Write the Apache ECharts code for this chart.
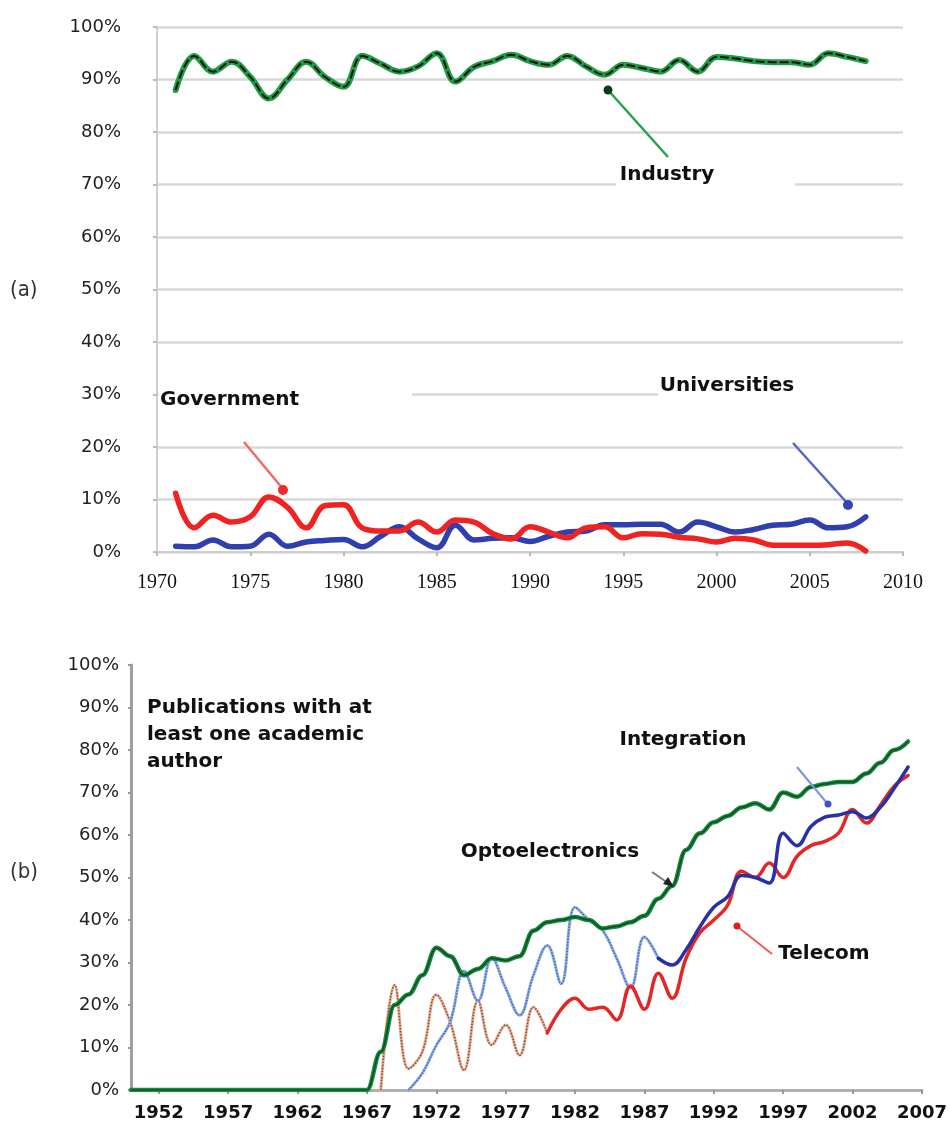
<!DOCTYPE html>
<html><head><meta charset="utf-8">
<script src="https://cdn.jsdelivr.net/npm/echarts@6/dist/echarts.min.js"></script>
<style>html,body{margin:0;padding:0;background:#fff}#c{width:950px;height:1126px}</style>
</head><body><div id="c"></div>
<script>
// ---------- Panel (a): share of publications by sector, 1971-2008 ----------
const aStartYear = 1971;
const industry = [88, 94.5, 91.5, 93.4, 90.5, 86.4, 90, 93.4, 90.5, 88.6,
  94.5, 93, 91.5, 92.5, 95, 89.6, 92.4, 93.5, 94.7, 93.5,
  92.8, 94.5, 92.5, 90.9, 92.8, 92.2, 91.5, 93.7, 91.5, 94.3,
  94, 93.5, 93.3, 93.3, 92.8, 95, 94.3, 93.5];
const government = [11.2, 4.6, 7.0, 5.7, 6.7, 10.5, 8.5, 4.6, 8.8, 9.0,
  4.6, 4.0, 4.0, 5.7, 3.8, 6.1, 5.7, 3.5, 2.5, 4.8,
  3.8, 2.7, 4.6, 4.8, 2.7, 3.5, 3.4, 2.8, 2.5, 1.9,
  2.6, 2.3, 1.3, 1.3, 1.3, 1.4, 1.7, 0.2];
const universities = [1.1, 1.0, 2.3, 1.0, 1.1, 3.4, 1.1, 1.9, 2.2, 2.4,
  1.0, 3.0, 4.8, 2.5, 0.8, 5.1, 2.3, 2.6, 2.7, 2.0,
  3.0, 3.8, 4.0, 5.2, 5.2, 5.3, 5.3, 3.8, 5.7, 4.8,
  3.8, 4.3, 5.1, 5.3, 6.1, 4.6, 4.8, 6.7];

// ---------- Panel (b): publications with at least one academic author ----------
const optoStartYear = 1950;
const optoelectronics = [0,0,0,0,0,0,0,0,0,0, 0,0,0,0,0,0,0,0,
  9, 20, 22.5, 27, 33.5, 31.5, 27, 28.5, 31, 30.5, 31.5, 37.5, 39.5,
  40, 40.7, 40, 38, 38.5, 39.5, 41, 45, 48, 56.5,
  60.4, 63, 64.5, 66.5, 67.5, 66, 70, 69, 71.3, 72,
  72.5, 72.5, 74.5, 77, 80, 82];
const integrationEarlyStart = 1970;
const integrationEarly = [0, 4, 10.5, 16, 28, 21, 31, 24, 17.6, 27, 34, 25, 43, 40, 37.5, 31, 24, 36, 31];
const integrationLateStart = 1988;
const integrationLate = [31, 29.4, 33, 38.4, 43, 45.5, 50.5, 50, 48.7, 60.4, 57.5, 62, 64.2, 64.7, 65.5, 64, 66.5, 71, 76];
const telecomEarlyStart = 1968;
const telecomEarly = [0, 24.7, 5, 9, 22.4, 16, 4.7, 21, 10.6, 15.3, 8.2, 19.5, 13.4];
const telecomLateStart = 1980;
const telecomLate = [13.4, 19, 21.6, 19, 19.5, 16.5, 24.5, 19, 27.5, 21.6,
  31, 37, 40, 43.5, 51.5, 50, 53.4, 50, 55, 57.5,
  58.5, 60.5, 66, 62.8, 67, 71.5, 74];
const xTickYearsB = [1952, 1957, 1962, 1967, 1972, 1977, 1982, 1987, 1992, 1997, 2002, 2007];

function pairs(start, arr) { return arr.map((v, i) => [start + i, v]); }

const pct = v => v + '%';
const yearFmt = v => String(v);
const sansY = 'DejaVu Sans';

function lineSeries(name, xi, data, color, width, extra) {
  return Object.assign({
    name: name, type: 'line', xAxisIndex: xi, yAxisIndex: xi,
    data: data, smooth: 0.4, symbol: 'none',
    lineStyle: { color: color, width: width, cap: 'round', join: 'round' },
    emphasis: { disabled: true }, silent: true
  }, extra || {});
}

const chart = echarts.init(document.getElementById('c'), null, { renderer: 'canvas' });

const boldFont = 'bold 20px "DejaVu Sans", Verdana, sans-serif';
const panelFont = '22px "Liberation Sans Narrow", "DejaVu Sans Condensed", sans-serif';

chart.setOption({
  animation: false,
  backgroundColor: '#ffffff',
  grid: [
    { left: 157, top: 27, width: 746, height: 525 },
    { left: 131, top: 665, width: 791, height: 425 }
  ],
  xAxis: [
    { gridIndex: 0, type: 'value', min: 1970, max: 2010, interval: 5,
      axisLine: { show: true, lineStyle: { color: '#cfcfcf', width: 2 } },
      axisTick: { show: true, length: 4, lineStyle: { color: '#bbb', width: 2 } },
      splitLine: { show: false },
      axisLabel: { formatter: yearFmt, color: '#111', fontFamily: '"Liberation Serif", "DejaVu Serif", serif', fontSize: 20, margin: 21 } },
    { gridIndex: 1, type: 'value', min: 1950, max: 2007,
      axisLine: { show: true, lineStyle: { color: '#b0b0b0', width: 3 } },
      axisTick: { show: true, length: 4, customValues: xTickYearsB, lineStyle: { color: '#999', width: 2 } },
      splitLine: { show: false },
      axisLabel: { customValues: xTickYearsB, formatter: yearFmt, color: '#111', fontFamily: 'DejaVu Sans', fontWeight: 'bold', fontSize: 18, margin: 14 } }
  ],
  yAxis: [
    { gridIndex: 0, type: 'value', min: 0, max: 100, interval: 10,
      axisLine: { show: true, lineStyle: { color: '#d0d0d0', width: 2 } },
      axisTick: { show: true, length: 4, lineStyle: { color: '#bbb', width: 2 } },
      splitLine: { show: true, lineStyle: { color: '#d8d8d8', width: 2.5 } },
      axisLabel: { formatter: pct, color: '#222', fontFamily: sansY, fontSize: 18, margin: 36 } },
    { gridIndex: 1, type: 'value', min: 0, max: 100, interval: 10,
      axisLine: { show: true, lineStyle: { color: '#9e9e9e', width: 3 } },
      axisTick: { show: true, length: 3, lineStyle: { color: '#999', width: 2 } },
      splitLine: { show: false },
      axisLabel: { formatter: pct, color: '#222', fontFamily: sansY, fontSize: 18, margin: 12 } }
  ],
  series: [
    // panel (a)
    lineSeries('Universities', 0, pairs(aStartYear, universities), '#2f3fae', 5.5),
    lineSeries('Government', 0, pairs(aStartYear, government), '#f02222', 5.5),
    lineSeries('Industry', 0, pairs(aStartYear, industry), '#1f9e46', 6),
    lineSeries('Industry core', 0, pairs(aStartYear, industry), '#111', 2, { lineStyle: { color: '#111', width: 2, type: [9, 3] } }),
    // panel (b)
    lineSeries('Telecom early', 1, pairs(telecomEarlyStart, telecomEarly), '#efb08f', 3),
    lineSeries('Telecom early dots', 1, pairs(telecomEarlyStart, telecomEarly), '#7a4d45', 1.5, { lineStyle: { color: '#7a4d45', width: 1.5, type: 'dotted' } }),
    lineSeries('Integration early', 1, pairs(integrationEarlyStart, integrationEarly), '#8db1ea', 3),
    lineSeries('Integration early dots', 1, pairs(integrationEarlyStart, integrationEarly), '#5263b0', 1.5, { lineStyle: { color: '#5263b0', width: 1.5, type: 'dotted' } }),
    lineSeries('Telecom', 1, pairs(telecomLateStart, telecomLate), '#e32626', 3.5),
    lineSeries('Integration', 1, pairs(integrationLateStart, integrationLate), '#2832a6', 3.5),
    lineSeries('Optoelectronics', 1, pairs(optoStartYear, optoelectronics), '#178a3c', 4.5, { smoothMonotone: 'x' }),
    lineSeries('Optoelectronics core', 1, pairs(optoStartYear, optoelectronics), '#0a2a12', 1.5, { smoothMonotone: 'x', lineStyle: { color: '#0a2a12', width: 1.5, opacity: 0.6 } })
  ],
  graphic: [
    // gridline gaps in panel (a)
    { type: 'rect', z: 1, silent: true, shape: { x: 159, y: 389, width: 253, height: 11 }, style: { fill: '#fff' } },
    { type: 'rect', z: 1, silent: true, shape: { x: 658, y: 389, width: 250, height: 11 }, style: { fill: '#fff' } },
    { type: 'rect', z: 1, silent: true, shape: { x: 616, y: 179, width: 179, height: 11 }, style: { fill: '#fff' } },
    // panel labels
    { type: 'text', z: 10, x: 10, y: 290, style: { text: '(a)', font: panelFont, fill: '#333', textVerticalAlign: 'middle' } },
    { type: 'text', z: 10, x: 10, y: 872, style: { text: '(b)', font: panelFont, fill: '#333', textVerticalAlign: 'middle' } },
    // Industry
    { type: 'line', z: 9, shape: { x1: 608, y1: 90, x2: 668, y2: 157 }, style: { stroke: '#2aa050', lineWidth: 2.5 } },
    { type: 'circle', z: 9, shape: { cx: 608, cy: 90, r: 4.5 }, style: { fill: '#0d3a1a' } },
    { type: 'text', z: 10, x: 667, y: 175, style: { text: 'Industry', font: boldFont, fill: '#111', textAlign: 'center', textVerticalAlign: 'middle' } },
    // Government
    { type: 'text', z: 10, x: 160, y: 400, style: { text: 'Government', font: boldFont, fill: '#111', textVerticalAlign: 'middle' } },
    { type: 'line', z: 9, shape: { x1: 244, y1: 442, x2: 283, y2: 489 }, style: { stroke: '#f06a6a', lineWidth: 2.5 } },
    { type: 'circle', z: 9, shape: { cx: 283, cy: 490, r: 5 }, style: { fill: '#ee2a2a' } },
    // Universities
    { type: 'text', z: 10, x: 727, y: 386, style: { text: 'Universities', font: boldFont, fill: '#111', textAlign: 'center', textVerticalAlign: 'middle' } },
    { type: 'line', z: 9, shape: { x1: 793, y1: 443, x2: 848, y2: 504 }, style: { stroke: '#5866c4', lineWidth: 2.5 } },
    { type: 'circle', z: 9, shape: { cx: 848, cy: 505, r: 5 }, style: { fill: '#3442b2' } },
    // Panel (b) title
    { type: 'text', z: 10, x: 147, y: 694, style: { text: 'Publications with at\nleast one academic\nauthor', font: boldFont, lineHeight: 27, fill: '#111' } },
    // Integration
    { type: 'text', z: 10, x: 683, y: 740, style: { text: 'Integration', font: boldFont, fill: '#111', textAlign: 'center', textVerticalAlign: 'middle' } },
    { type: 'line', z: 9, shape: { x1: 797, y1: 767, x2: 826, y2: 802 }, style: { stroke: '#7d95dc', lineWidth: 2 } },
    { type: 'circle', z: 9, shape: { cx: 828, cy: 804, r: 3.5 }, style: { fill: '#3d54c0' } },
    // Optoelectronics
    { type: 'text', z: 10, x: 550, y: 852, style: { text: 'Optoelectronics', font: boldFont, fill: '#111', textAlign: 'center', textVerticalAlign: 'middle' } },
    { type: 'line', z: 9, shape: { x1: 652, y1: 872, x2: 668, y2: 883 }, style: { stroke: '#777', lineWidth: 2 } },
    { type: 'polygon', z: 9, shape: { points: [[674, 887], [663, 884], [668, 877]] }, style: { fill: '#222' } },
    // Telecom
    { type: 'text', z: 10, x: 824, y: 954, style: { text: 'Telecom', font: boldFont, fill: '#111', textAlign: 'center', textVerticalAlign: 'middle' } },
    { type: 'line', z: 9, shape: { x1: 772, y1: 954, x2: 738, y2: 927 }, style: { stroke: '#ee5a5a', lineWidth: 2 } },
    { type: 'circle', z: 9, shape: { cx: 737, cy: 926, r: 3.5 }, style: { fill: '#e02020' } }
  ]
});
</script>
</body></html>
